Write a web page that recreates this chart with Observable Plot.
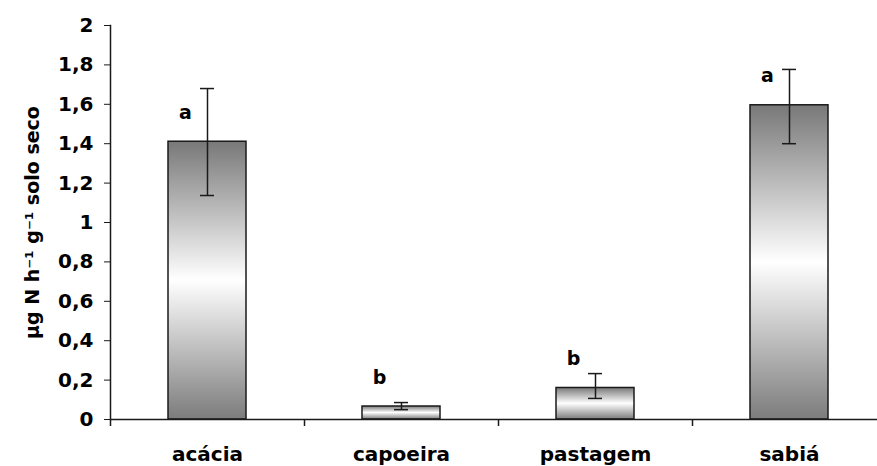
<!DOCTYPE html>
<html>
<head>
<meta charset="utf-8">
<script src="https://cdn.jsdelivr.net/npm/d3@7"></script>
<script src="https://cdn.jsdelivr.net/npm/@observablehq/plot@0.6"></script>
<style>
  html, body { margin: 0; padding: 0; background: #fff; }
</style>
</head>
<body>
<div id="chart"></div>
<script>
const categories = ["acácia", "capoeira", "pastagem", "sabiá"];
const means = [1.41, 0.066, 0.16, 1.595];
const errHigh = [1.68, 0.086, 0.233, 1.777];
const errLow = [1.137, 0.05, 0.107, 1.40];
const letters = ["a", "b", "b", "a"];
const yTicks = [0, 0.2, 0.4, 0.6, 0.8, 1, 1.2, 1.4, 1.6, 1.8, 2];
const yTitle = "µg N h⁻¹ g⁻¹ solo seco";

const data = categories.map((c, i) => ({
  cat: c, mean: means[i], hi: errHigh[i], lo: errLow[i], letter: letters[i]
}));

const ink = "#1a1a1a";

const chart = Plot.plot({
  width: 877,
  height: 466,
  marginLeft: 110,
  marginRight: 0,
  marginTop: 25,
  marginBottom: 47,
  style: {
    fontFamily: "'DejaVu Sans', sans-serif",
    fontSize: "20px",
    fontWeight: "bold",
    background: "#fff",
    color: "#000"
  },
  x: { domain: categories, range: [110, 886], padding: 0, label: null },
  y: { domain: [0, 2], label: null },
  marks: [
    Plot.barY(data, {
      x: "cat", y: "mean",
      fill: "url(#barGrad)",
      stroke: ink, strokeWidth: 1.5,
      insetLeft: 58, insetRight: 58
    }),
    Plot.ruleX(data, { x: "cat", y1: "lo", y2: "hi", stroke: ink, strokeWidth: 1.5 }),
    Plot.tickY(data, { x: "cat", y: "hi", stroke: ink, strokeWidth: 1.5, insetLeft: 90, insetRight: 90 }),
    Plot.tickY(data, { x: "cat", y: "lo", stroke: ink, strokeWidth: 1.5, insetLeft: 90, insetRight: 90 }),
    Plot.text(data, {
      x: "cat", y: "mean", text: "letter",
      dx: -22, dy: -29, fontSize: 19, fill: "#000"
    }),
    Plot.ruleY([0], { stroke: ink, strokeWidth: 1.5 }),
    Plot.frame({ anchor: "left", stroke: ink, strokeWidth: 1.5 }),
    Plot.tickX(categories, {
      x: d => d, dx: -97, stroke: ink, strokeWidth: 1.5,
      insetTop: 401, insetBottom: 0
    }),
    Plot.axisY(yTicks, {
      tickSize: 6, tickPadding: 11, stroke: ink,
      tickFormat: d => String(d).replace(".", ","),
      label: null
    }),
    Plot.axisX({ tickSize: 0, tickPadding: 27, label: null }),
    Plot.text([yTitle], {
      text: d => d, frameAnchor: "left", rotate: -90,
      textAnchor: "middle", lineAnchor: "middle",
      dx: -78, fontSize: 19, fill: "#000"
    })
  ]
});

const svg = d3.select(chart);
const defs = svg.insert("defs", ":first-child");
const grad = defs.append("linearGradient")
  .attr("id", "barGrad")
  .attr("x1", 0).attr("y1", 0).attr("x2", 0).attr("y2", 1);
grad.append("stop").attr("offset", "0%").attr("stop-color", "#787878");
grad.append("stop").attr("offset", "50%").attr("stop-color", "#ffffff");
grad.append("stop").attr("offset", "100%").attr("stop-color", "#7c7c7c");

document.getElementById("chart").appendChild(chart);
</script>
</body>
</html>
